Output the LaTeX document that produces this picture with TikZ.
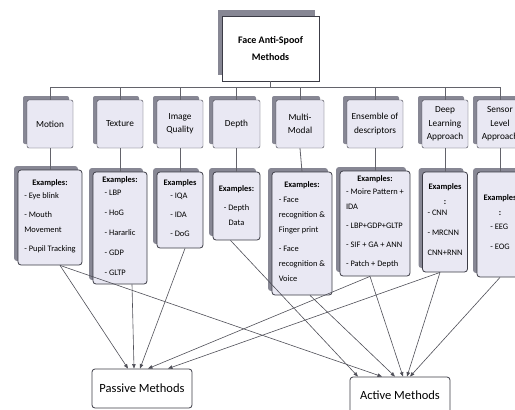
\documentclass[tikz,border=0pt]{standalone}
\usepackage{fontspec}
\setmainfont{Carlito}
\usepackage{xcolor}
\definecolor{lila}{RGB}{233,232,243}
\definecolor{sombra}{RGB}{135,135,148}
\definecolor{borde}{RGB}{60,60,70}
\usetikzlibrary{calc, arrows.meta, shadows}

\begin{document}
\begin{tikzpicture}[x=1pt, y=-1pt,
  root/.style={rectangle, draw=borde, thick, fill=white, general shadow={fill=sombra, shadow xshift=-4pt, shadow yshift=6pt}, minimum width=97pt, minimum height=65pt, font=\fontsize{10}{17}\selectfont\bfseries, align=center},
  cat/.style={rectangle, rounded corners=2pt, draw=borde, fill=lila, general shadow={fill=sombra, shadow xshift=-4pt, shadow yshift=4pt}, minimum height=48pt, font=\fontsize{9.3}{13.5}\selectfont, align=center, inner sep=1pt},
  ex/.style={rectangle, rounded corners=3pt, draw=borde, thick, fill=lila, general shadow={fill=sombra, shadow xshift=-4pt, shadow yshift=4pt}, font=\fontsize{8.4}{15}\selectfont, align=center, inner sep=1pt},
  res/.style={rectangle, rounded corners=3pt, draw=borde, thick, fill=white, minimum width=100pt, font=\fontsize{12.5}{14}\selectfont},
  link/.style={-{Triangle[length=4.5pt,width=3.5pt]}, draw=borde!90, line width=0.6pt},
  bus/.style={draw=borde!80, line width=0.8pt}
]
  \useasboundingbox (0,0) rectangle (515,410);
  \clip (0,0) rectangle (515,410);
  \fill[white] (0,0) rectangle (515,410);

  \node[root] (root) at (270.5,48.5) {Face Anti-Spoof\\Methods};

  % categories
  \node[cat, minimum width=46pt] (mot) at (50,124) {Motion};
  \node[cat, minimum width=46pt] (tex) at (120,124) {Texture};
  \node[cat, minimum width=46pt] (iq)  at (180,124) {Image\\Quality};
  \node[cat, minimum width=47pt] (dep) at (236.5,124) {Depth};
  \node[cat, minimum width=48pt] (mul) at (300,124) {Multi-\\Modal};
  \node[cat, minimum width=56pt] (ens) at (375,124) {Ensemble of\\descriptors};
  \node[cat, minimum width=46pt] (dl)  at (445,124) {Deep\\Learning\\Approach};
  \node[cat, minimum width=46pt] (sen) at (500,124) {Sensor\\Level\\Approach};

  \coordinate (hub) at (270.5,87);
  \draw[bus] (root.south) -- (hub);
  \foreach \c in {mot,tex,iq,dep,mul,ens,dl,sen}
    \draw[bus] (\c.north) |- (hub);

  % examples
  \node[ex, minimum width=64pt, minimum height=95pt] (exmot) at (50,217.5)
    {\textbf{Examples:}\\\begin{tabular}{@{}l@{}}- Eye blink\\[4pt]- Mouth\\Movement\\[4pt]- Pupil Tracking\end{tabular}};
  \node[ex, minimum width=54pt, minimum height=112pt] (extex) at (120,228)
    {\textbf{Examples:}\\\begin{tabular}{@{}l@{}}- LBP\\[5pt]- HoG\\[5pt]- Hararlic\\[5pt]- GDP\\[5pt]- GLTP\end{tabular}\hspace{10pt}};
  \node[ex, minimum width=46pt, minimum height=76pt] (exiq) at (180,210)
    {\textbf{Examples}\\\begin{tabular}{@{}l@{}}- IQA\\[4pt]- IDA\\[4pt]- DoG\end{tabular}\hspace{12pt}};
  \node[ex, minimum width=47pt, minimum height=68pt] (exdep) at (236.5,206)
    {\textbf{Examples:}\\[4pt]- Depth\\Data};
  \node[ex, minimum width=60pt, minimum height=123pt] (exmul) at (302,233.5)
    {\textbf{Examples:}\\[2pt]\begin{tabular}{@{}l@{}}- Face\\recognition \&\\Finger print\\[4pt]- Face\\recognition \&\\Voice\end{tabular}};
  \node[ex, minimum width=70pt, minimum height=105pt] (exens) at (375,223.5)
    {\textbf{Examples:}\\\begin{tabular}{@{}l@{}}- Moire Pattern +\\IDA\\[4pt]- LBP+GDP+GLTP\\[4pt]- SIF + GA + ANN\\[4pt]- Patch + Depth\end{tabular}};
  \node[ex, minimum width=45pt, minimum height=100pt] (exdl) at (445,222)
    {\textbf{Examples}\\\textbf{:}\\\begin{tabular}{@{}l@{}}- CNN\\[5pt]- MRCNN\\[5pt]CNN+RNN\end{tabular}};
  \node[ex, minimum width=46pt, minimum height=105pt] (exsen) at (500,224.5)
    {\textbf{Examples}\\\textbf{:}\\[3pt]\begin{tabular}{@{}l@{}}- EEG\\[5pt]- EOG\end{tabular}\hspace{14pt}};

  \foreach \c in {mot,tex,iq,dep,mul,ens,dl,sen}
    \draw[bus] (\c.south) -- (ex\c.north);

  % results
  \node[res, minimum height=39pt] (pas) at (142,388.5) {Passive Methods};
  \node[res, minimum height=36pt] (act) at (400,395) {Active Methods};

  \draw[link] ($(exmot.south)+(10,0)$) -- ($(pas.north)+(-14,0)$);
  \draw[link] ($(exmot.south)+(10,0)$) -- ($(act.north)+(-18,0)$);
  \draw[link] ($(extex.south)+(12,0)$) -- ($(pas.north)+(-8,0)$);
  \draw[link] ($(exiq.south)+(5,0)$) -- ($(pas.north)+(-2,0)$);
  \draw[link] ($(exdep.south)+(-6,0)$) -- ($(act.north)+(-42,0)$);
  \draw[link] ($(exmul.south)+(8,0)$) -- ($(act.north)+(-5,0)$);
  \draw[link] ($(exens.south)+(-5,0)$) -- ($(pas.north)+(6,0)$);
  \draw[link] ($(exens.south)+(-5,0)$) -- ($(act.north)+(3,0)$);
  \draw[link] ($(exdl.south)+(-5,0)$) -- ($(pas.north)+(26,0)$);
  \draw[link] ($(exdl.south)+(-5,0)$) -- ($(act.north)+(7,0)$);
  \draw[link] (exsen.south) -- ($(act.north)+(10,0)$);
\end{tikzpicture}
\end{document}
